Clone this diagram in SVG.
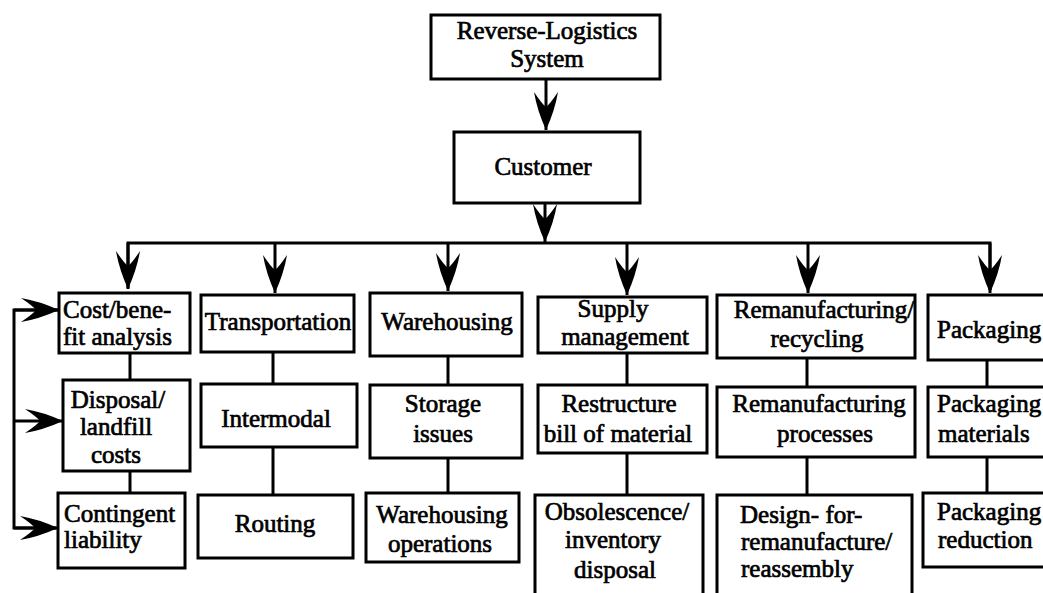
<svg xmlns="http://www.w3.org/2000/svg" width="1043" height="593" viewBox="0 0 1043 593">
<style>
.b{fill:#fff;stroke:#000;stroke-width:3}
.t{font-family:"Liberation Serif","Times New Roman",serif;font-size:25px;fill:#000;stroke:#000;stroke-width:0.7}
.m{text-anchor:middle}
.c{fill:none;stroke:#000;stroke-width:3}
</style>
<defs>
<marker id="ah" markerUnits="userSpaceOnUse" viewBox="-40 -13 42 26" refX="0" refY="0" markerWidth="42" markerHeight="26" orient="auto">
<path d="M0,0 Q-20,-9 -38,-12 Q-26,-4 -23,0 Q-26,4 -38,12 Q-20,9 0,0 Z" fill="#000"/>
</marker>
</defs>
<rect width="1043" height="593" fill="#fff"/>
<g id="connectors">
<line class="c" x1="546" y1="79" x2="546" y2="130" marker-end="url(#ah)"/>
<line class="c" x1="545" y1="203" x2="545" y2="242" marker-end="url(#ah)"/>
<polyline class="c" points="128,288 128,243 990,243 990,290"/>
<line class="c" x1="128" y1="243" x2="128" y2="289" marker-end="url(#ah)"/>
<line class="c" x1="275" y1="243" x2="275" y2="293" marker-end="url(#ah)"/>
<line class="c" x1="448" y1="243" x2="448" y2="291" marker-end="url(#ah)"/>
<line class="c" x1="627" y1="243" x2="627" y2="295" marker-end="url(#ah)"/>
<line class="c" x1="808" y1="243" x2="808" y2="293" marker-end="url(#ah)"/>
<line class="c" x1="990" y1="243" x2="990" y2="293" marker-end="url(#ah)"/>
<polyline class="c" points="58,310 14,310 14,528 56,528"/>
<line class="c" x1="14" y1="310" x2="59" y2="310" marker-end="url(#ah)"/>
<line class="c" x1="14" y1="421" x2="63" y2="421" marker-end="url(#ah)"/>
<line class="c" x1="14" y1="528" x2="58" y2="528" marker-end="url(#ah)"/>
<line class="c" x1="130" y1="353" x2="130" y2="380"/>
<line class="c" x1="130" y1="471" x2="130" y2="493"/>
<line class="c" x1="273" y1="352" x2="273" y2="384"/>
<line class="c" x1="273" y1="447" x2="273" y2="495"/>
<line class="c" x1="448" y1="356" x2="448" y2="385"/>
<line class="c" x1="448" y1="458" x2="448" y2="493"/>
<line class="c" x1="627" y1="353" x2="627" y2="385"/>
<line class="c" x1="627" y1="453" x2="627" y2="495"/>
<line class="c" x1="807" y1="358" x2="807" y2="387"/>
<line class="c" x1="807" y1="457" x2="807" y2="495"/>
<line class="c" x1="987" y1="360" x2="987" y2="387"/>
<line class="c" x1="987" y1="457" x2="987" y2="493"/>
</g>
<g id="rls"><rect class="b" x="431" y="15" width="229" height="64"/>
<text class="t m" x="547" y="39">Reverse-Logistics</text><text class="t m" x="547" y="67">System</text></g>
<g id="customer"><rect class="b" x="454" y="132" width="186" height="71"/>
<text class="t m" x="543" y="175">Customer</text></g>

<g id="costbenefit"><rect class="b" x="59" y="293" width="131" height="60"/>
<text class="t" x="63" y="318">Cost/bene-</text><text class="t" x="63" y="345">fit analysis</text></g>
<g id="disposal"><rect class="b" x="63" y="380" width="127" height="91"/>
<text class="t m" x="118" y="408">Disposal/</text><text class="t m" x="116" y="435">landfill</text><text class="t m" x="116" y="463">costs</text></g>
<g id="contingent"><rect class="b" x="58" y="493" width="127" height="75"/>
<text class="t" x="64" y="522">Contingent</text><text class="t" x="64" y="548">liability</text></g>

<g id="transportation"><rect class="b" x="201" y="295" width="153" height="57"/>
<text class="t m" x="278" y="330">Transportation</text></g>
<g id="intermodal"><rect class="b" x="201" y="384" width="156" height="63"/>
<text class="t m" x="276" y="427">Intermodal</text></g>
<g id="routing"><rect class="b" x="198" y="495" width="155" height="63"/>
<text class="t m" x="275" y="532">Routing</text></g>

<g id="warehousing"><rect class="b" x="370" y="293" width="152" height="63"/>
<text class="t m" x="447" y="330">Warehousing</text></g>
<g id="storage"><rect class="b" x="370" y="385" width="152" height="73"/>
<text class="t m" x="443" y="412">Storage</text><text class="t m" x="443" y="442">issues</text></g>
<g id="whops"><rect class="b" x="366" y="493" width="153" height="69"/>
<text class="t m" x="442" y="523">Warehousing</text><text class="t m" x="440" y="552">operations</text></g>

<g id="supply"><rect class="b" x="538" y="297" width="169" height="56"/>
<text class="t m" x="613" y="317">Supply</text><text class="t m" x="625" y="345">management</text></g>
<g id="restructure"><rect class="b" x="538" y="385" width="169" height="68"/>
<text class="t m" x="619" y="412">Restructure</text><text class="t m" x="618" y="442">bill of material</text></g>
<g id="obsolescence"><rect class="b" x="535" y="495" width="168" height="110"/>
<text class="t m" x="617" y="520">Obsolescence/</text><text class="t m" x="613" y="548">inventory</text><text class="t m" x="615" y="578">disposal</text></g>

<g id="reman"><rect class="b" x="717" y="295" width="198" height="63"/>
<text class="t m" x="824" y="318">Remanufacturing/</text><text class="t m" x="817" y="347">recycling</text></g>
<g id="remanproc"><rect class="b" x="717" y="387" width="198" height="70"/>
<text class="t m" x="819" y="412">Remanufacturing</text><text class="t m" x="825" y="442">processes</text></g>
<g id="design"><rect class="b" x="717" y="495" width="195" height="110"/>
<text class="t" x="740" y="523">Design- for-</text><text class="t" x="741" y="550">remanufacture/</text><text class="t" x="741" y="577">reassembly</text></g>

<g id="packaging"><rect class="b" x="928" y="295" width="130" height="65"/>
<text class="t" x="937" y="338">Packaging</text></g>
<g id="packmat"><rect class="b" x="928" y="387" width="130" height="70"/>
<text class="t" x="937" y="412">Packaging</text><text class="t" x="938" y="442">materials</text></g>
<g id="packred"><rect class="b" x="923" y="493" width="135" height="74"/>
<text class="t" x="937" y="520">Packaging</text><text class="t" x="938" y="548">reduction</text></g>
</svg>
